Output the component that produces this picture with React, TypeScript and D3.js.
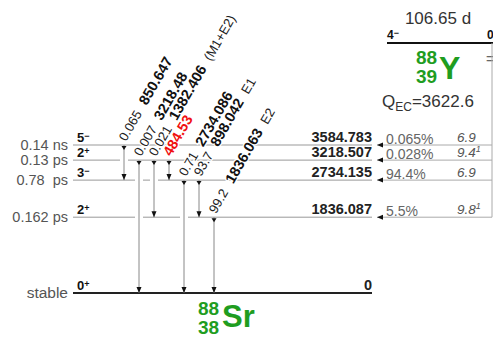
import React from "react";
import * as d3 from "d3";

// Levels of 88Sr fed in the EC decay of 88Y
const levelEnergies = [0, 1836.087, 2734.135, 3218.507, 3584.783];
const levelEnergyLabels = ["0", "1836.087", "2734.135", "3218.507", "3584.783"];
const levelSpins = ["0", "2", "3", "2", "5"];
const levelParities = ["+", "+", "−", "+", "−"];
const levelHalfLives = ["stable", "0.162 ps", "0.78  ps", "0.13 ps", "0.14 ns"];
const betaIntensities = ["", "5.5%", "94.4%", "0.028%", "0.065%"];
const logFtValues = ["", "9.8", "6.9", "9.4", "6.9"];
const logFtNotes = ["", "1", "", "1", ""];

// Gamma transitions (level indices refer to the arrays above)
const gammaEnergies = ["850.647", "3218.48", "1382.406", "484.53", "2734.086", "898.042", "1836.063"];
const gammaFrom = [4, 3, 3, 3, 2, 2, 1];
const gammaTo = [2, 0, 1, 2, 0, 1, 0];
const gammaIntensities = ["0.065", "0.007", "0.021", "", "0.71", "93.7", "99.2"];
const gammaMultipolarities = ["", "", "(M1+E2)", "", "", "E1", "E2"];
const highlightedGamma = "484.53";

// Parent nucleus
const parentHalfLife = "106.65 d";
const parentSpin = "4";
const parentParity = "−";
const parentEnergy = "0";
const qEC = "3622.6";

const W = 493;
const H = 340;
const FONT = "'Liberation Sans', Arial, Helvetica, sans-serif";
const GREEN = "#1f9d1f";

const LEVEL_X0 = 73;
const LEVEL_X1 = 372;
const FEED_X = 377;
const FEED_RIGHT = 492;
const PARENT_Y = 43;

export default function App() {
  const y = d3.scaleLinear().domain([0, levelEnergies[levelEnergies.length - 1]]).range([293, 145]);
  const x = d3.scalePoint<string>().domain(gammaEnergies).range([124, 214]);

  // Breaks in level lines where transitions pass through them
  const segments = levelEnergies.map((e) => {
    const cuts = gammaEnergies
      .map((g, gi) => ({ g, gi }))
      .filter(({ gi }) => levelEnergies[gammaFrom[gi]] > e && levelEnergies[gammaTo[gi]] < e)
      .map(({ g }) => [(x(g) as number) - 4, (x(g) as number) + 4])
      .sort((a, b) => a[0] - b[0]);
    const segs: [number, number][] = [];
    let start = LEVEL_X0;
    cuts.forEach(([a, b]) => {
      if (a > start) segs.push([start, a]);
      start = Math.max(start, b);
    });
    segs.push([start, LEVEL_X1]);
    return segs;
  });

  const lowestFed = d3.min(levelEnergies.filter((_, i) => betaIntensities[i] !== "")) as number;

  return (
    <svg
      width={W}
      height={H}
      style={{ position: "absolute", left: 0, top: 0, background: "#fff" }}
      fontFamily={FONT}
    >
      {/* parent level */}
      <text x={438} y={24} fontSize={17} textAnchor="middle" fill="#333">{parentHalfLife}</text>
      <line x1={387} x2={W} y1={PARENT_Y} y2={PARENT_Y} stroke="#111" strokeWidth={2} />
      <text x={387} y={39} fontSize={12} fontWeight="bold" fill="#111">
        {parentSpin}
        <tspan fontSize={9} dy={-3}>{parentParity}</tspan>
      </text>
      <text x={487} y={39} fontSize={12} fontWeight="bold" fill="#111">{parentEnergy}</text>
      <text x={416} y={64} fontSize={19} fontWeight="bold" fill={GREEN}>88</text>
      <text x={416} y={83} fontSize={19} fontWeight="bold" fill={GREEN}>39</text>
      <text x={439} y={79} fontSize={32} fontWeight="bold" fill={GREEN}>Y</text>
      <text x={486} y={64} fontSize={14} fill="#666">=</text>
      <text x={382} y={107} fontSize={17} fill="#333">
        Q<tspan fontSize={12} dy={4}>EC</tspan>
        <tspan dy={-4}>={qEC}</tspan>
      </text>

      {/* feeding lines from the parent */}
      <line x1={FEED_RIGHT} x2={FEED_RIGHT} y1={PARENT_Y} y2={y(lowestFed)} stroke="#aaa" strokeWidth={1} />
      {levelEnergies.map((e, i) =>
        betaIntensities[i] === "" ? null : (
          <g key={"feed" + i}>
            <line x1={FEED_X} x2={FEED_RIGHT} y1={y(e)} y2={y(e)} stroke="#aaa" strokeWidth={1} />
            <path d={`M${FEED_X},${y(e)} L${FEED_X + 6},${y(e) - 2.5} L${FEED_X + 6},${y(e) + 2.5} Z`} fill="#111" />
            <text x={386} y={y(e) - 1} fontSize={14} fill="#666">{betaIntensities[i]}</text>
            <text x={457} y={y(e) - 3} fontSize={13.5} fontStyle="italic" fill="#555">
              {logFtValues[i]}
              {logFtNotes[i] ? <tspan fontSize={9} dy={-5}>{logFtNotes[i]}</tspan> : null}
            </text>
          </g>
        )
      )}

      {/* levels */}
      {levelEnergies.map((e, i) => (
        <g key={"lvl" + i}>
          {i === 0 ? (
            <line x1={LEVEL_X0} x2={LEVEL_X1} y1={y(e)} y2={y(e)} stroke="#222" strokeWidth={2} />
          ) : (
            segments[i].map(([a, b], k) => (
              <line key={k} x1={a} x2={b} y1={y(e)} y2={y(e)} stroke="#999" strokeWidth={1} />
            ))
          )}
          <text x={68} y={y(e) + 5} fontSize={i === 0 ? 15.5 : 14.5} textAnchor="end" fill="#555" style={{ whiteSpace: "pre" }}>
            {levelHalfLives[i]}
          </text>
          <text x={77} y={y(e) - 3} fontSize={13} fontWeight="bold" fill="#111">
            {levelSpins[i]}
            <tspan fontSize={9} dy={-3}>{levelParities[i]}</tspan>
          </text>
          <text x={LEVEL_X1} y={y(e) - 3} fontSize={14.5} fontWeight="bold" textAnchor="end" fill="#222">
            {levelEnergyLabels[i]}
          </text>
        </g>
      ))}

      {/* gamma transitions */}
      {gammaEnergies.map((g, i) => {
        const gx = x(g) as number;
        const y0 = y(levelEnergies[gammaFrom[i]]);
        const y1 = y(levelEnergies[gammaTo[i]]);
        return (
          <g key={"g" + i}>
            <line x1={gx} x2={gx} y1={y0} y2={y1} stroke="#888" strokeWidth={1} />
            <path d={`M${gx - 2.5},${y0 + 1} L${gx + 2.5},${y0 + 1} L${gx},${y0 + 5} Z`} fill="#111" />
            <path d={`M${gx - 2.5},${y1 - 6} L${gx + 2.5},${y1 - 6} L${gx},${y1} Z`} fill="#111" />
          </g>
        );
      })}
      {gammaEnergies.map((g, i) => {
        const gx = x(g) as number;
        const y0 = y(levelEnergies[gammaFrom[i]]);
        const red = g === highlightedGamma;
        return (
          <text
            key={"gl" + i}
            transform={`translate(${gx + 2},${y0 - 3}) rotate(-60)`}
            fontSize={13}
            fill="#222"
            stroke="#fff"
            strokeWidth={2.5}
            paintOrder="stroke"
            style={{ whiteSpace: "pre" }}
          >
            {gammaIntensities[i] ? <tspan>{gammaIntensities[i]}</tspan> : null}
            <tspan dx={gammaIntensities[i] ? 9 : 0} fontWeight="bold" fontSize={14.5} fill={red ? "#f01010" : "#111"}>
              {g}
            </tspan>
            {gammaMultipolarities[i] ? <tspan dx={8}>{gammaMultipolarities[i]}</tspan> : null}
          </text>
        );
      })}

      {/* daughter nucleus */}
      <text x={198} y={315} fontSize={19} fontWeight="bold" fill={GREEN}>88</text>
      <text x={198} y={334} fontSize={19} fontWeight="bold" fill={GREEN}>38</text>
      <text x={222} y={327} fontSize={31} fontWeight="bold" fill={GREEN}>Sr</text>
    </svg>
  );
}
